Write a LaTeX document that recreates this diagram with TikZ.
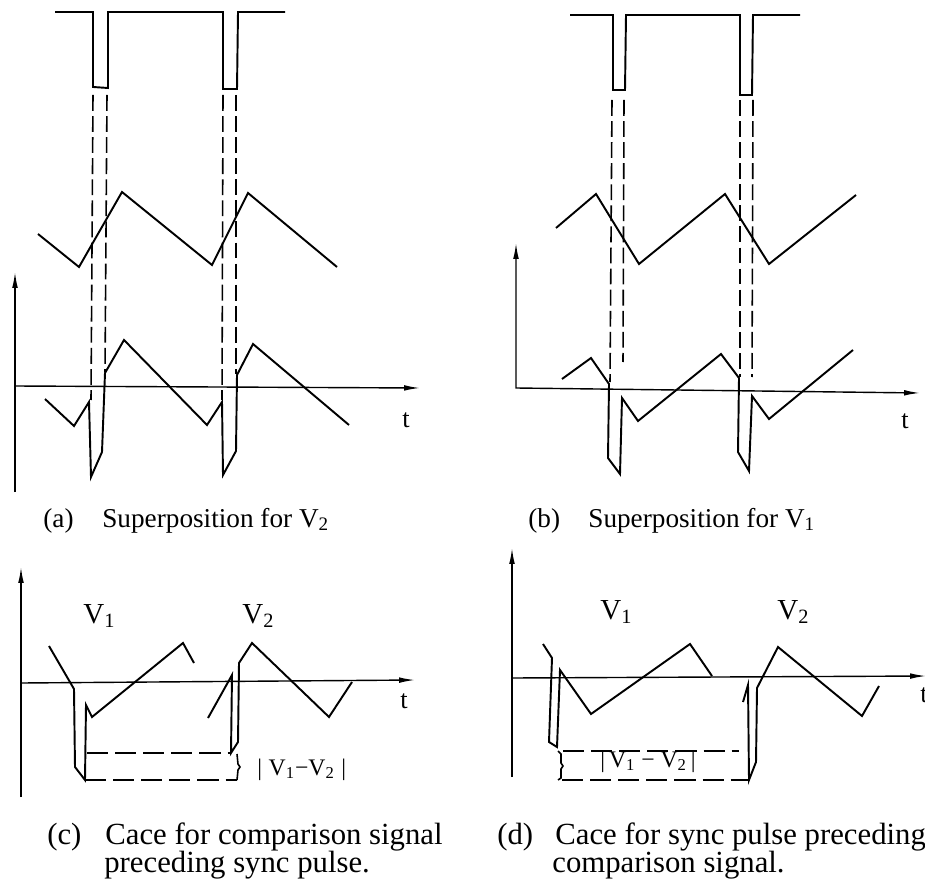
\documentclass[tikz,border=0pt]{standalone}
\usepackage{fontspec}
\setmainfont{Liberation Serif}
\usetikzlibrary{arrows.meta}

\begin{document}
\begin{tikzpicture}[x=0.02cm, y=-0.02cm, >={Latex[length=9pt,width=3.2pt]},
  sig/.style={line width=1.1pt, line join=miter},
  axis/.style={line width=0.8pt, ->},
  guide/.style={line width=0.9pt, dash pattern=on 9pt off 3pt},
  gapline/.style={line width=0.9pt, dash pattern=on 12pt off 4pt},
  capt/.style={font=\fontsize{15.5}{16}\selectfont, anchor=base west, inner sep=0pt},
  captwide/.style={font=\fontsize{17.5}{18}\selectfont, anchor=base west, inner sep=0pt},
  vlbl/.style={font=\fontsize{16.5}{18}\selectfont, anchor=base west, inner sep=0pt},
  dlbl/.style={font=\fontsize{13.5}{15}\selectfont, anchor=base west, inner sep=0pt},
  tlbl/.style={font=\fontsize{15}{16}\selectfont, anchor=base west, inner sep=0pt}]
  \useasboundingbox (0,0) rectangle (925,891);

  % (a) superposition for V2
  \coordinate (a-bot) at (15,492);
  \coordinate (a-top) at (15,272);
  \coordinate (a-org) at (15,386);
  \coordinate (a-end) at (420,388);
  \draw[axis] (a-bot) -- (a-top);
  \draw[axis] (a-org) -- (a-end);
  \node[tlbl] (a-t) at (402,427) {t};
  \draw[sig] (55,12) -- (93,12) -- (93,87) -- (108,88) -- (108,12) -- (223,12)
    -- (223,89) -- (237,89) -- (238,12) -- (285,12);
  \draw[sig] (38,234) -- (79,267) -- (122,192) -- (212,265) -- (248,193) -- (337,267);
  \draw[sig] (45,399) -- (74,426) -- (89,402) -- (91,477) -- (102,452) -- (105,373)
    -- (124,340) -- (207,425) -- (222,402) -- (223,475) -- (236,451) -- (237,375)
    -- (253,344) -- (349,425);
  \draw[guide] (93,95) -- (91,400);
  \draw[guide] (107,95) -- (105,372);
  \draw[guide] (223,95) -- (222,400);
  \draw[guide] (236,95) -- (236,374);
  \node[capt] (a-tag) at (43,527) {(a)};
  \node[capt] (a-cap) at (102,527) {Superposition for V\textsubscript{2}};

  % (b) superposition for V1
  \coordinate (b-top) at (516,243);
  \coordinate (b-org) at (516,388);
  \coordinate (b-end) at (920,393);
  \draw[line width=0.8pt, <->] (b-top) -- (b-org) -- (b-end);
  \node[tlbl] (b-t) at (901,428) {t};
  \draw[sig] (570,15) -- (613,15) -- (613,90) -- (625,90) -- (626,15) -- (740,15)
    -- (740,95) -- (752,95) -- (753,15) -- (800,15);
  \draw[sig] (556,228) -- (596,194) -- (639,264) -- (725,194) -- (769,264) -- (856,195);
  \draw[sig] (562,379) -- (591,358) -- (609,384) -- (608,458) -- (620,474) -- (622,398)
    -- (638,421) -- (721,354) -- (739,378) -- (738,452) -- (749,471) -- (752,396)
    -- (769,419) -- (853,350);
  \draw[guide] (612,100) -- (610,382);
  \draw[guide] (624,100) -- (623,362);
  \draw[guide] (740,100) -- (740,377);
  \draw[guide] (753,100) -- (752,377);
  \node[capt] (b-tag) at (528,527) {(b)};
  \node[capt] (b-cap) at (588,527) {Superposition for V\textsubscript{1}};

  % (c) comparison signal first
  \coordinate (c-bot) at (21,797);
  \coordinate (c-top) at (21,567);
  \coordinate (c-org) at (21,683);
  \coordinate (c-end) at (415,680);
  \draw[axis] (c-bot) -- (c-top);
  \draw[axis] (c-org) -- (c-end);
  \node[tlbl] (c-t) at (400,708) {t};
  \node[vlbl] (c-v1) at (83,623) {V\textsubscript{1}};
  \node[vlbl] (c-v2) at (242,623) {V\textsubscript{2}};
  \draw[sig] (49,646) -- (74,689) -- (75,767) -- (85,780) -- (86,705) -- (92,717)
    -- (183,643) -- (194,663);
  \draw[sig] (208,718) -- (232,675) -- (231,753) -- (238,742) -- (239,663) -- (252,643)
    -- (329,717) -- (352,682);
  \draw[gapline] (87,753) -- (231,753);
  \draw[gapline] (85,780) -- (237,780);
  \draw[line width=0.9pt] (237,754) -- (238,764) -- (240,767) -- (238,770) -- (237,780);
  \node[dlbl] (c-d) at (257,775) {|\;V\textsubscript{1}−V\textsubscript{2}\;|};
  \node[captwide] (c-tag) at (47,844) {(c)};
  \node[captwide] (c-l1) at (105,844) {Cace for comparison signal};
  \node[captwide] (c-l2) at (104,872) {preceding sync pulse.};

  % (d) sync pulse first
  \coordinate (d-bot) at (512,777);
  \coordinate (d-top) at (512,548);
  \coordinate (d-org) at (512,678);
  \coordinate (d-end) at (926,676);
  \draw[axis] (d-bot) -- (d-top);
  \draw[axis] (d-org) -- (d-end);
  \node[tlbl] (d-t) at (920,702) {t};
  \node[vlbl] (d-v1) at (600,619) {V\textsubscript{1}};
  \node[vlbl] (d-v2) at (777,619) {V\textsubscript{2}};
  \draw[sig] (543,644) -- (552,658) -- (549,742) -- (557,747) -- (560,670) -- (591,714)
    -- (690,644) -- (712,676);
  \draw[sig] (743,702) -- (748,685) -- (749,780) -- (756,762) -- (757,688) -- (778,647)
    -- (862,716) -- (879,686);
  \draw[gapline] (563,751) -- (739,751);
  \draw[gapline] (562,780) -- (748,780);
  \draw[line width=0.9pt] (558,751) -- (561,754) -- (561,763) -- (563,766) -- (561,769)
    -- (561,778) -- (558,780);
  \node[dlbl] (d-d) at (600,767) {|\,V\textsubscript{1} − V\textsubscript{2}\,|};
  \node[captwide] (d-tag) at (497,844) {(d)};
  \node[captwide] (d-l1) at (555,844) {Cace for sync pulse preceding};
  \node[captwide] (d-l2) at (552,872) {comparison signal.};
\end{tikzpicture}
\end{document}
